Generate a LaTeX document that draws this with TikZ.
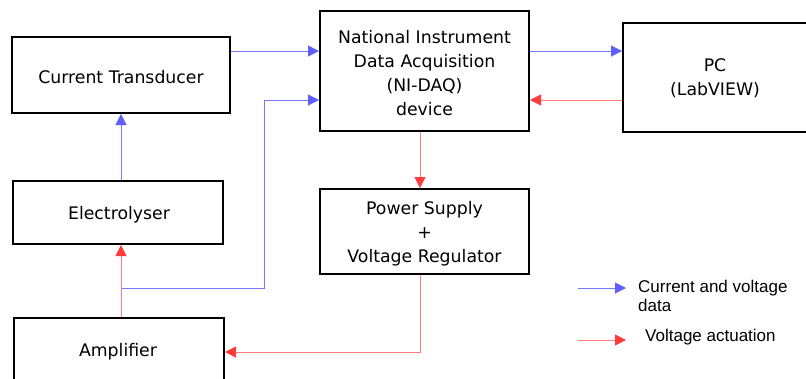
\documentclass[tikz,border=0pt]{standalone}
\usepackage{fontspec}
\setmainfont{DejaVu Sans}
\newfontfamily\legfont{Liberation Sans}
\usetikzlibrary{arrows.meta}
\definecolor{bline}{RGB}{120,120,255}
\definecolor{bhead}{RGB}{95,95,255}
\definecolor{rline}{RGB}{255,125,125}
\definecolor{rhead}{RGB}{255,60,60}
\tikzset{
  blk/.style={draw=black, line width=2pt, inner sep=0pt},
  txt/.style={inner sep=0pt, font=\fontsize{17.3}{24}\selectfont, align=center},
  bluearr/.style={draw=bline, line width=1pt, -{Triangle[length=11pt,width=11pt,fill=bhead,color=bhead]}},
  redarr/.style={draw=rline, line width=1pt, -{Triangle[length=11pt,width=11pt,fill=rhead,color=rhead]}},
  legtext/.style={font=\legfont\fontsize{17}{18.5}\selectfont, align=left, anchor=west, inner sep=0pt}
}
\begin{document}
\begin{tikzpicture}[x=1pt,y=-1pt]
\useasboundingbox (0,0) rectangle (806,378);
\fill[white] (0,0) rectangle (806,378);
% boxes
\node[blk, minimum width=218pt, minimum height=76pt] (ct) at (121,75) {};
\node[txt] (ctt) at (121,77) {Current Transducer};
\node[blk, minimum width=209pt, minimum height=120pt] (daq) at (424.5,71) {};
\node[txt] (daqt) at (424.5,73.5) {National Instrument\\Data Acquisition\\(NI-DAQ)\\device};
\node[blk, minimum width=184pt, minimum height=109pt, anchor=north west] (pc) at (622,22) {};
\node[txt] (pct) at (715,78.5) {PC\\(LabVIEW)};
\node[blk, minimum width=210pt, minimum height=63pt] (el) at (118,212.5) {};
\node[txt] (elt) at (119,214.5) {Electrolyser};
\node[blk, minimum width=209pt, minimum height=85pt] (ps) at (424.5,231.5) {};
\node[txt] (pst) at (424.5,234) {Power Supply\\+\\Voltage Regulator};
\node[blk, minimum width=210pt, minimum height=80pt, anchor=north west] (amp) at (13,317) {};
\node[txt] (ampt) at (118,351.5) {Amplifier};
% coordinates
\coordinate (j) at (121,288);
\coordinate (c1) at (264,288);
\coordinate (c2) at (264,100);
\coordinate (c3) at (420,352);
% blue connectors
\draw[bluearr] (ct.east |- 0,51) -- (daq.west |- 0,51);
\draw[bluearr] (j) -- (c1) -- (c2) -- (daq.west |- c2);
\draw[bluearr] (el.north -| 121,0) -- (ct.south -| 121,0);
\draw[bluearr] (daq.east |- 0,51) -- (pc.west |- 0,51);
% red connectors
\draw[redarr] (pc.west |- 0,100) -- (daq.east |- 0,100);
\draw[redarr] (amp.north -| 121,0) -- (el.south -| 121,0);
\draw[redarr] (daq.south -| 420,0) -- (ps.north -| 420,0);
\draw[redarr] (ps.south -| 420,0) -- (c3) -- (amp.east |- c3);
% legend
\coordinate (lb1) at (578,288);
\coordinate (lb2) at (626,288);
\coordinate (lr1) at (578,340);
\coordinate (lr2) at (626,340);
\draw[bluearr] (lb1) -- (lb2);
\draw[redarr] (lr1) -- (lr2);
\node[legtext] (lbt) at (638,296) {Current and voltage\\data};
\node[legtext] (lrt) at (645,337) {Voltage actuation};
\end{tikzpicture}
\end{document}
